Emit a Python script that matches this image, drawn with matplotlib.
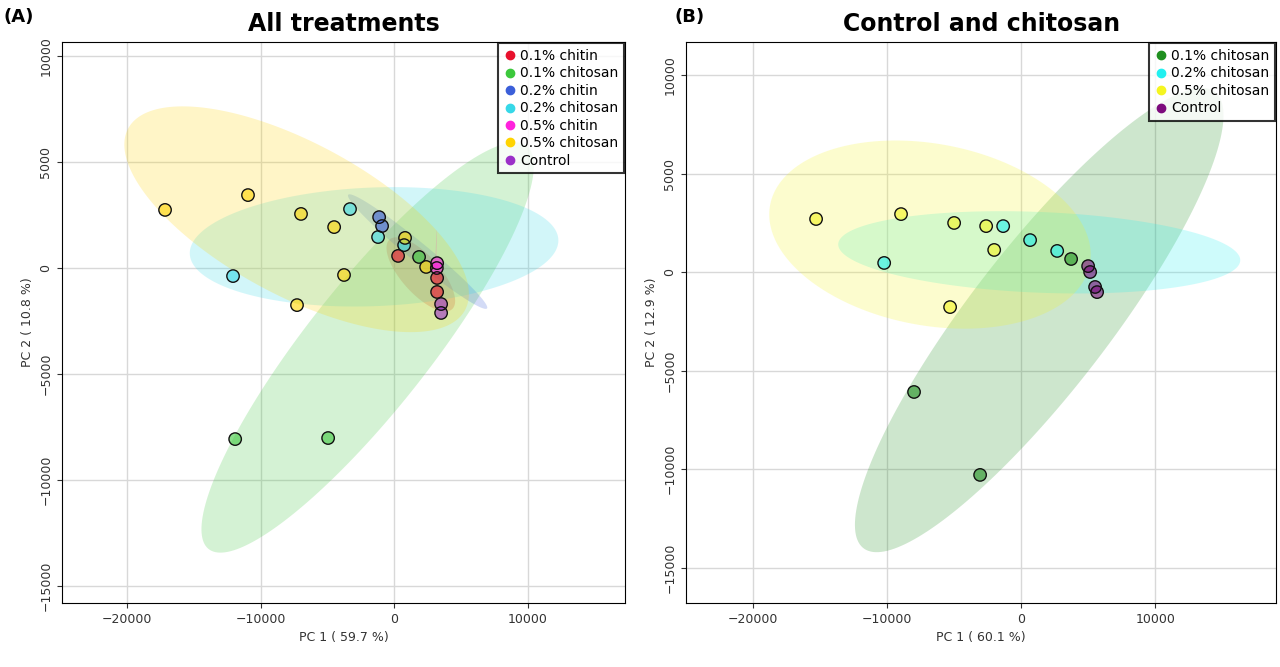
import numpy as np
import matplotlib
matplotlib.use("Agg")
import matplotlib.pyplot as plt
from matplotlib.lines import Line2D

# ---- Panel A data ----
groupsA = ["0.1% chitin", "0.1% chitosan", "0.2% chitin", "0.2% chitosan", "0.5% chitin", "0.5% chitosan", "Control"]
colorsA = ["#e8102c", "#3cc83c", "#3b5fd9", "#36d8e8", "#ff22dd", "#ffd400", "#9b30c8"]
xA = {
    "0.1% chitin": [300, 3220, 3220],
    "0.1% chitosan": [-11900, -4940, 1870],
    "0.2% chitin": [-1120, -900],
    "0.2% chitosan": [-3300, -1200, 750, -12060],
    "0.5% chitin": [3220, 3200],
    "0.5% chitosan": [-17150, -10940, -6970, -4490, -3750, -7270, 820, 2400],
    "Control": [3520, 3520],
}
yA = {
    "0.1% chitin": [570, -470, -1130],
    "0.1% chitosan": [-8070, -8020, 520],
    "0.2% chitin": [2400, 1980],
    "0.2% chitosan": [2780, 1460, 1080, -380],
    "0.5% chitin": [230, 0],
    "0.5% chitosan": [2740, 3440, 2550, 1930, -330, -1750, 1420, 50],
    "Control": [-1700, -2120],
}
# ellipse: center, axis vector a, axis vector b (data units)
ellA = {
    "0.1% chitin": ((2000, -300), (2500, -1500), (600, 900)),
    "0.1% chitosan": ((-1980, -3750), (12170, 9320), (-2600, 2600)),
    "0.2% chitin": ((1760, 775), (5210, -2665), (250, 450)),
    "0.2% chitosan": ((-1500, 1000), (13800, 300), (0, 2800)),
    "0.5% chitin": ((3100, 0), (100, 1800), (40, 0)),
    "0.5% chitosan": ((-7300, 2300), (12800, -3000), (-1600, 4400)),
}

# ---- Panel B data ----
groupsB = ["0.1% chitosan", "0.2% chitosan", "0.5% chitosan", "Control"]
colorsB = ["#1f8f1f", "#22f0f0", "#f5f520", "#7d0a7d"]
xB = {
    "0.1% chitosan": [3730, -7990, -3060],
    "0.2% chitosan": [-10220, -1340, 670, 2690],
    "0.5% chitosan": [-15300, -8960, -5000, -2610, -2010, -5300],
    "Control": [5000, 5150, 5520, 5670],
}
yB = {
    "0.1% chitosan": [660, -6090, -10300],
    "0.2% chitosan": [460, 2330, 1620, 1070],
    "0.5% chitosan": [2690, 2940, 2490, 2330, 1120, -1780],
    "Control": [300, 0, -760, -1020],
}
ellB = {
    "0.1% chitosan": ((1350, -2440), (13350, 11420), (-3300, 2900)),
    "0.2% chitosan": ((1350, 1000), (15000, -400), (0, 2050)),
    "0.5% chitosan": ((-6800, 1900), (11900, -1600), (1500, 4500)),
}

fig = plt.figure(figsize=(12.8, 6.67), dpi=100)
t = np.linspace(0, 2 * np.pi, 200)

def panel(ax, groups, colors, xs, ys, ells, title, xlab, ylab, xlim, ylim, yticks):
    ax.set_xlim(*xlim)
    ax.set_ylim(*ylim)
    ax.set_xticks([-20000, -10000, 0, 10000])
    ax.set_yticks(yticks)
    ax.grid(True, color="#d8d8d8", lw=1)
    ax.set_axisbelow(True)
    for g, c in zip(groups, colors):
        if g in ells:
            (cx, cy), a, b = ells[g]
            ex = cx + a[0] * np.cos(t) + b[0] * np.sin(t)
            ey = cy + a[1] * np.cos(t) + b[1] * np.sin(t)
            ax.fill(ex, ey, color=c, alpha=0.22, lw=0, zorder=1)
    for g, c in zip(groups, colors):
        ax.scatter(xs[g], ys[g], s=80, facecolor=c, alpha=0.6, edgecolor="none", zorder=3)
        ax.scatter(xs[g], ys[g], s=80, facecolor="none", edgecolor="#111111", lw=1, zorder=4)
    ax.set_title(title, fontsize=17, fontweight="bold", pad=8)
    ax.set_xlabel(xlab, fontsize=9, color="#333333")
    ax.set_ylabel(ylab, fontsize=9, color="#333333")
    for lbl in ax.get_yticklabels():
        lbl.set_rotation(90)
        lbl.set_va("center")
    ax.tick_params(labelsize=9, colors="#333333")
    handles = [Line2D([], [], marker="o", ls="", color=c, markersize=6, label=g) for g, c in zip(groups, colors)]
    leg = ax.legend(handles=handles, loc="upper right", fontsize=10, frameon=True, fancybox=False,
                    handletextpad=0.2, borderpad=0.4, labelspacing=0.25, handlelength=1.0,
                    borderaxespad=0.1)
    leg.get_frame().set_edgecolor("black")
    leg.get_frame().set_linewidth(1.5)

axA = fig.add_axes([0.0484, 0.096, 0.44, 0.841])
panel(axA, groupsA, colorsA, xA, yA, ellA, "All treatments", "PC 1 ( 59.7 %)", "PC 2 ( 10.8 %)",
      (-24870, 17300), (-15800, 10660), [-15000, -10000, -5000, 0, 5000, 10000])
axB = fig.add_axes([0.536, 0.096, 0.461, 0.841])
panel(axB, groupsB, colorsB, xB, yB, ellB, "Control and chitosan", "PC 1 ( 60.1 %)", "PC 2 ( 12.9 %)",
      (-25000, 19030), (-16800, 11675), [-15000, -10000, -5000, 0, 5000, 10000])

fig.text(0.003, 0.975, "(A)", fontsize=13, fontweight="bold", va="center")
fig.text(0.527, 0.975, "(B)", fontsize=13, fontweight="bold", va="center")

fig.savefig("out.png", dpi=100)
